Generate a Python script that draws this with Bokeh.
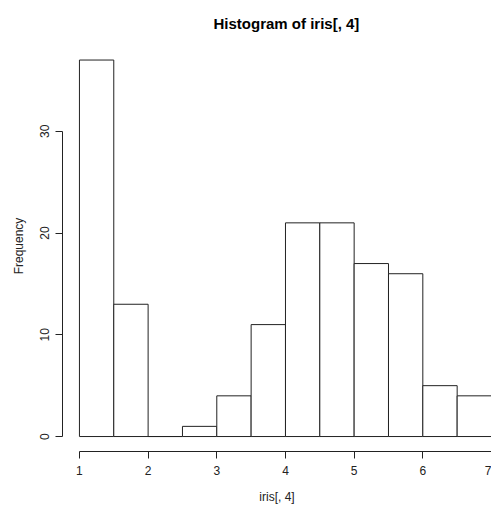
from bokeh.plotting import figure
from bokeh.models import Range1d, FixedTicker, ColumnDataSource
from bokeh.embed import file_html
from bokeh.resources import INLINE

# Data
bin_left = [1.0, 1.5, 2.0, 2.5, 3.0, 3.5, 4.0, 4.5, 5.0, 5.5, 6.0, 6.5]
bin_right = [1.5, 2.0, 2.5, 3.0, 3.5, 4.0, 4.5, 5.0, 5.5, 6.0, 6.5, 7.0]
counts = [37, 13, 0, 1, 4, 11, 21, 21, 17, 16, 5, 4]
x_ticks = [1, 2, 3, 4, 5, 6, 7]
y_ticks = [0, 10, 20, 30]

FONT = "Liberation Sans"

p = figure(width=491, height=506, output_backend="svg", toolbar_location=None,
           x_range=Range1d(0.7533, 7.0), y_range=Range1d(-1.47, 38.92),
           min_border_left=62, min_border_right=0, min_border_bottom=54,
           min_border_top=40)
p.title.text = "Histogram of iris[, 4]"
p.title.text_font = FONT
p.title.text_font_size = "15px"
p.title.text_font_style = "bold"
p.title.text_color = "#000000"
p.title.align = "left"
p.title.offset = 151
p.title.standoff = 18
p.outline_line_color = None
p.xgrid.visible = False
p.ygrid.visible = False
p.background_fill_color = "white"
p.border_fill_color = "white"

src = ColumnDataSource(dict(left=bin_left, right=bin_right, top=counts,
                            bottom=[0] * len(counts)))
p.quad(left="left", right="right", top="top", bottom="bottom", source=src,
       fill_color="white", line_color="#222222", line_width=1)

for ax in (p.xaxis[0], p.yaxis[0]):
    ax.axis_line_color = "#222222"
    ax.major_tick_line_color = "#222222"
    ax.minor_tick_line_color = None
    ax.major_tick_in = 0
    ax.major_tick_out = 7
    ax.major_label_text_font = FONT
    ax.major_label_text_font_size = "12px"
    ax.major_label_text_color = "#222222"
    ax.axis_label_text_font = FONT
    ax.axis_label_text_font_size = "12px"
    ax.axis_label_text_font_style = "normal"
    ax.axis_label_text_color = "#222222"

p.xaxis.ticker = FixedTicker(ticks=x_ticks)
p.xaxis.bounds = (1, 7)
p.xaxis.axis_label = "iris[, 4]"
p.xaxis.major_label_standoff = 7
p.xaxis.axis_label_standoff = 12

p.yaxis.ticker = FixedTicker(ticks=y_ticks)
p.yaxis.bounds = (0, 30)
p.yaxis.axis_label = "Frequency"
p.yaxis.major_label_orientation = "vertical"
p.yaxis.major_label_standoff = 6
p.yaxis.axis_label_standoff = 12

open("out.html", "w").write(file_html(p, INLINE))
